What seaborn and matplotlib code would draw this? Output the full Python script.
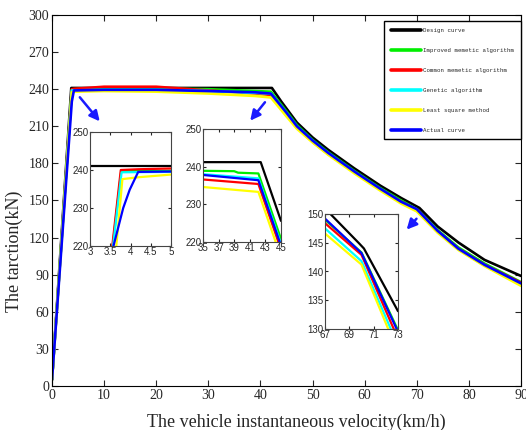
import numpy as np
import seaborn as sns
import matplotlib
import matplotlib.pyplot as plt
from matplotlib.lines import Line2D

matplotlib.use("Agg")

labels = ["Design curve", "Improved memetic algorithm", "Common memetic algorithm",
          "Genetic algorithm", "Least square method", "Actual curve"]
colors = ["#000000", "#00ee00", "#ff0000", "#00ffff", "#ffff00", "#0000ff"]

# main curves
design_v = [0, 3.7, 42.2, 44, 47, 50, 53, 58, 63, 67, 70.5, 74, 78, 83, 90]
design_f = [5, 241, 241, 230, 213, 201, 191, 176, 162, 152, 144, 129, 116, 102, 89]

algo_v = [0, 3.8, 4.2, 10, 20, 30, 39, 42, 45, 47, 50, 53, 58, 63, 67, 70, 74, 78, 83, 90]
improved_f = [5, 239.5, 240, 240.5, 240.5, 240, 238.5, 238, 222, 211, 199, 189, 174, 160, 150, 143, 126, 112, 99, 84]
common_f = [5, 240, 240.3, 242, 242, 239, 236.5, 235.3, 220, 209, 197.5, 187.5, 173, 159, 149, 142.5, 125, 111, 98, 83.5]
genetic_f = [5, 239, 239, 239.5, 239.5, 238.5, 237, 236.5, 220.5, 209.5, 198, 188, 173, 159, 148.5, 141.8, 124.5, 110.5, 97.5, 82]
lsq_f = [5, 237.5, 238, 238.5, 238, 236.5, 234.5, 233.3, 218, 208, 197, 187, 172, 158, 147.5, 141.2, 124, 110, 97, 81]
actual_f = [5, 230, 239, 239.5, 239.5, 238.5, 237.5, 236.5, 221, 210, 198.5, 188.5, 173.5, 159.5, 149, 143, 125.5, 111, 98, 83]

# zoom 1 (3-5 km/h)
z1_design_v, z1_design_f = [3, 5], [241.1, 241.1]
z1_improved_v, z1_improved_f = [3.56, 3.77, 5], [220, 239.7, 239.8]
z1_common_v, z1_common_f = [3.55, 3.76, 4.2, 5], [220, 240, 240.2, 240.4]
z1_genetic_v, z1_genetic_f = [3.57, 3.78, 5], [220, 239.4, 239.5]
z1_lsq_v, z1_lsq_f = [3.65, 3.8, 4.2, 5], [220, 237.6, 238.1, 238.8]
z1_actual_v, z1_actual_f = [3.58, 3.7, 3.82, 3.98, 4.19, 5], [220, 225, 230, 234.8, 239.5, 239.6]

# zoom 2 (35-45 km/h)
z2_design_v, z2_design_f = [35, 42.4, 45], [241.2, 241.2, 225.6]
z2_improved_v, z2_improved_f = [35, 39, 39.5, 42.1, 45], [238.9, 238.8, 238.4, 238.2, 220.8]
z2_common_v, z2_common_f = [35, 42.1, 45], [236.6, 235.4, 218]
z2_genetic_v, z2_genetic_f = [35, 42.1, 45], [238, 236.9, 219.5]
z2_lsq_v, z2_lsq_f = [35, 42.1, 45], [234.6, 233.3, 215.9]
z2_actual_v, z2_actual_f = [35, 42.1, 45], [237.8, 236.4, 219]

# zoom 3 (67-73 km/h)
z3_design_v, z3_design_f = [67, 67.4, 69.8, 70.2, 73], [151, 150.1, 144.9, 144.0, 133.1]
z3_improved_v, z3_improved_f = [67, 70.0, 73], [149.0, 143.3, 129.8]
z3_common_v, z3_common_f = [67, 70.0, 73], [148.4, 142.9, 128.3]
z3_genetic_v, z3_genetic_f = [67, 70.0, 73], [147.5, 141.8, 127.1]
z3_lsq_v, z3_lsq_f = [67, 70.0, 73], [146.6, 141.2, 125.9]
z3_actual_v, z3_actual_f = [67, 70.0, 73], [149.2, 143.2, 129.5]


def draw(ax, series, lw):
    for (v, f), c in zip(series, colors):
        sns.lineplot(x=v, y=f, ax=ax, color=c, lw=lw, sort=False,
                     estimator=None, legend=False)


def style_box(ax, size, font, edge):
    ax.tick_params(direction="in", top=True, right=True, length=3,
                   labelsize=size, pad=1.5, width=0.8)
    for lab in ax.get_xticklabels() + ax.get_yticklabels():
        lab.set_family(font)
    for s in ax.spines.values():
        s.set_linewidth(0.8)
        s.set_color(edge)
    ax.set_xlabel("")
    ax.set_ylabel("")


def main():
    sns.set_style("ticks")
    plt.rcParams["font.family"] = ["Liberation Serif", "DejaVu Serif"]

    fig = plt.figure(figsize=(5.26, 4.30), dpi=100)
    W, H = 526, 430
    ax = fig.add_axes([52 / W, 1 - 386 / H, 469 / W, 371 / H])

    main_series = [(design_v, design_f), (algo_v, improved_f), (algo_v, common_f),
                   (algo_v, genetic_f), (algo_v, lsq_f), (algo_v, actual_f)]
    draw(ax, main_series, 1.9)
    ax.set_xlim(0, 90)
    ax.set_ylim(0, 300)
    ax.set_xticks(np.arange(0, 91, 10))
    ax.set_yticks(np.arange(0, 301, 30))
    style_box(ax, 10, "Liberation Serif", "black")
    ax.tick_params(length=4, pad=2)
    ax.set_xlabel("The vehicle instantaneous velocity(km/h)", fontsize=13)
    ax.set_ylabel("The tarction(kN)", fontsize=13)
    ax.xaxis.set_label_coords(0.52, -0.075)
    ax.yaxis.set_label_coords(-0.062, 0.364)

    handles = [Line2D([0], [0], color=c, lw=2.6) for c in colors]
    leg = ax.legend(handles, labels, loc="upper left",
                    bbox_to_anchor=(0.708, 0.984), borderaxespad=0,
                    fancybox=False, framealpha=1, edgecolor="black",
                    handlelength=5.2, labelspacing=2.6, borderpad=1.15,
                    handletextpad=0.45,
                    prop={"family": "Liberation Mono", "size": 4.15})
    leg.get_frame().set_linewidth(1.0)

    # zoomed views
    ax1 = fig.add_axes([90 / W, 1 - 246 / H, 81 / W, 114 / H])
    draw(ax1, [(z1_design_v, z1_design_f), (z1_improved_v, z1_improved_f),
               (z1_common_v, z1_common_f), (z1_genetic_v, z1_genetic_f),
               (z1_lsq_v, z1_lsq_f), (z1_actual_v, z1_actual_f)], 1.6)
    ax1.set_xlim(3, 5)
    ax1.set_ylim(220, 250)
    ax1.set_xticks([3, 3.5, 4, 4.5, 5])
    ax1.set_xticklabels(["3", "3.5", "4", "4.5", "5"])
    ax1.set_yticks([220, 230, 240, 250])

    ax2 = fig.add_axes([203 / W, 1 - 242 / H, 78 / W, 113 / H])
    draw(ax2, [(z2_design_v, z2_design_f), (z2_improved_v, z2_improved_f),
               (z2_common_v, z2_common_f), (z2_genetic_v, z2_genetic_f),
               (z2_lsq_v, z2_lsq_f), (z2_actual_v, z2_actual_f)], 1.6)
    ax2.set_xlim(35, 45)
    ax2.set_ylim(220, 250)
    ax2.set_xticks([35, 37, 39, 41, 43, 45])
    ax2.set_yticks([220, 230, 240, 250])

    ax3 = fig.add_axes([325 / W, 1 - 329 / H, 73 / W, 115 / H])
    draw(ax3, [(z3_design_v, z3_design_f), (z3_improved_v, z3_improved_f),
               (z3_common_v, z3_common_f), (z3_genetic_v, z3_genetic_f),
               (z3_lsq_v, z3_lsq_f), (z3_actual_v, z3_actual_f)], 1.6)
    ax3.set_xlim(67, 73)
    ax3.set_ylim(130, 150)
    ax3.set_xticks([67, 69, 71, 73])
    ax3.set_yticks([130, 135, 140, 145, 150])

    for a in (ax1, ax2, ax3):
        style_box(a, 7, "Liberation Sans", "#444444")
        a.tick_params(length=2, pad=1)

    # pointer arrows
    arrows = [((5.0, 235.2), (9.5, 212.3)),
              ((41.2, 231.2), (37.7, 212.8)),
              ((70.3, 136.9), (67.7, 124.8))]
    for start, end in arrows:
        ax.annotate("", xy=end, xytext=start,
                    arrowprops=dict(arrowstyle="-|>,head_length=0.6,head_width=0.3",
                                    color="#1a1aff", lw=1.8))

    fig.savefig("out.png", dpi=100)


if __name__ == "__main__":
    main()
